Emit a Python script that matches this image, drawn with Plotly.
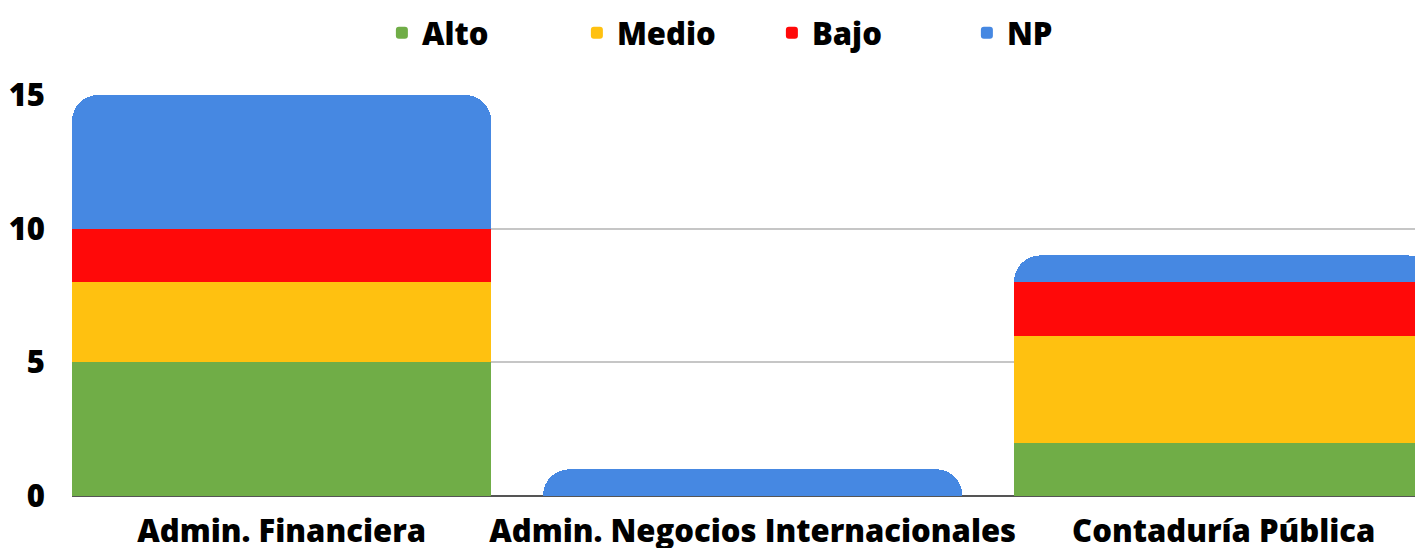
import plotly.graph_objects as go

# data
categories = ['Admin. Financiera', 'Admin. Negocios Internacionales', 'Contaduría Pública']
alto = [5, 0, 2]
medio = [3, 0, 4]
bajo = [2, 0, 2]
np_vals = [5, 1, 1]
y_ticks = [0, 5, 10, 15]

series = [
    ('Alto', alto, '#70AD47'),
    ('Medio', medio, '#FFC110'),
    ('Bajo', bajo, '#FF0909'),
    ('NP', np_vals, '#4688E2'),
]

fig = go.Figure()
for name, vals, color in series:
    fig.add_trace(go.Bar(
        x=categories,
        y=vals,
        name=name,
        marker=dict(color=color, line=dict(width=0)),
    ))

# the page body adds an 8px offset, margins are set to compensate
fig.update_layout(
    barmode='stack',
    barcornerradius=26,
    bargap=0.11,
    width=1423,
    height=548,
    margin=dict(l=64, r=0, t=87, b=60, autoexpand=False),
    plot_bgcolor='white',
    paper_bgcolor='white',
    font=dict(family='Open Sans', size=31, color='black', weight=800),
    legend=dict(
        orientation='h',
        traceorder='normal',
        x=0.515, xanchor='center',
        y=0.954, yanchor='middle',
        yref='container',
        entrywidthmode='pixels',
        entrywidth=150,
        font=dict(size=31, weight=800),
        itemclick=False,
    ),
    showlegend=True,
)

fig.update_xaxes(
    range=[-0.445, 2.44],
    automargin=False,
    showgrid=False,
    ticks='',
    ticklabelstandoff=14,
    tickfont=dict(size=31, weight=800),
)
fig.update_yaxes(
    range=[0, 15],
    automargin=False,
    tickvals=y_ticks,
    showgrid=True,
    gridcolor='#C6C6C6',
    gridwidth=2,
    zeroline=True,
    zerolinecolor='#555555',
    zerolinewidth=2,
    tickfont=dict(size=31, weight=800),
    ticklabelstandoff=26,
)

fig.write_html("out.html")
